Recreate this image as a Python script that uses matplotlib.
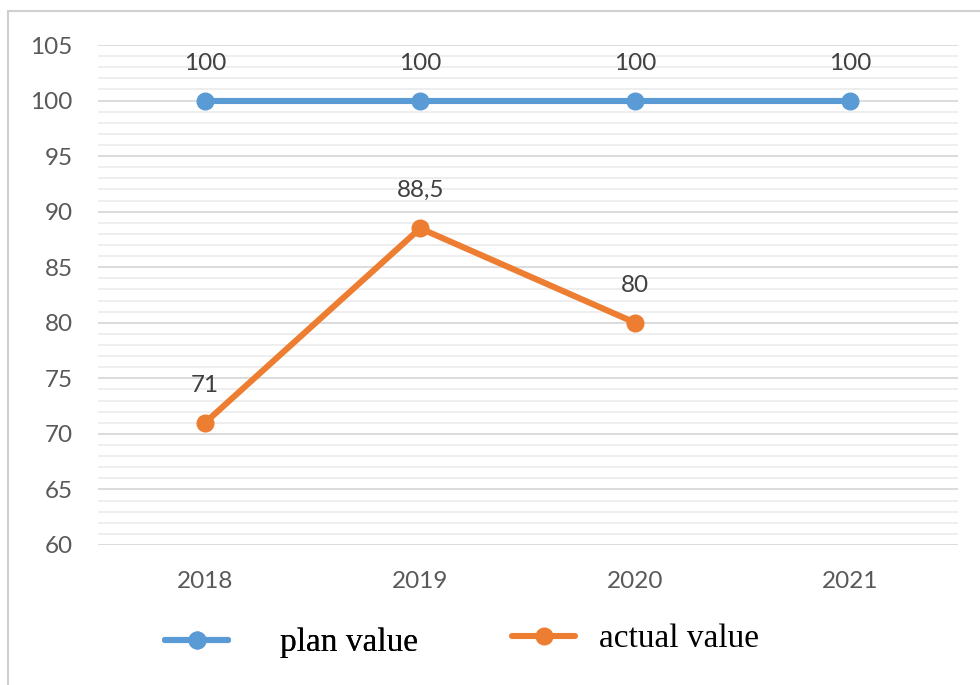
import numpy as np
import matplotlib.pyplot as plt
from matplotlib.patches import Rectangle
from matplotlib.ticker import MultipleLocator

years = ['2018', '2019', '2020', '2021']
plan = [100, 100, 100, 100]
actual = [71, 88.5, 80]
plan_labels = ['100', '100', '100', '100']
actual_labels = ['71', '88,5', '80']

blue = '#5B9BD5'
orange = '#ED7D31'

fig = plt.figure(figsize=(9.8, 6.85), dpi=100)
# рамка диаграммы
fig.patches.append(Rectangle((8/980, -0.1), 1.2, 1 - 11/685 + 0.1, transform=fig.transFigure,
                             fill=False, edgecolor='#d0d0d0', linewidth=1.5))
ax = fig.add_axes([0.0995, 0.2044, 0.878, 0.7299])

x = np.arange(len(years))
l1, = ax.plot(x, plan, color=blue, lw=4.4, marker='o', ms=12, label='plan value',
              solid_capstyle='round', zorder=3)
l2, = ax.plot(x[:len(actual)], actual, color=orange, lw=4.4, marker='o', ms=12,
              label='actual value', solid_capstyle='round', zorder=3)

lab_font = dict(family=['Lato', 'DejaVu Sans'], fontsize=17.5, color='#404040')
for xi, v, t in zip(x, plan, plan_labels):
    ax.annotate(t, (xi, v), xytext=(0, 27), textcoords='offset points',
                ha='center', va='center', **lab_font)
for xi, v, t in zip(x, actual, actual_labels):
    ax.annotate(t, (xi, v), xytext=(0, 27), textcoords='offset points',
                ha='center', va='center', **lab_font)

ax.set_xlim(-0.5, 3.5)
ax.set_ylim(60, 105)
ax.set_xticks(x)
ax.set_xticklabels(years)
ax.yaxis.set_major_locator(MultipleLocator(5))
ax.yaxis.set_minor_locator(MultipleLocator(1))
ax.grid(axis='y', which='major', color='#d9d9d9', lw=1.3, zorder=0)
ax.grid(axis='y', which='minor', color='#e9e9e9', lw=1.1, zorder=0)
ax.set_axisbelow(True)
for s in ax.spines.values():
    s.set_visible(False)
ax.tick_params(axis='both', which='both', length=0)
ax.tick_params(axis='y', pad=18)
ax.tick_params(axis='x', pad=19)
for lbl in ax.get_xticklabels() + ax.get_yticklabels():
    lbl.set_family(['Lato', 'DejaVu Sans'])
    lbl.set_fontsize(17.5)
    lbl.set_color('#595959')

leg_prop = {'family': 'Liberation Serif', 'size': 24}
leg1 = fig.legend([l1], ['plan value'], loc='center left', bbox_to_anchor=(165/980, 1 - 643/685),
                  frameon=False, prop=leg_prop, borderpad=0, borderaxespad=0,
                  handlelength=1.9, handletextpad=1.55)
fig.add_artist(leg1)
fig.legend([l2], ['actual value'], loc='center left', bbox_to_anchor=(512/980, 1 - 639/685),
           frameon=False, prop=leg_prop, borderpad=0, borderaxespad=0,
           handlelength=1.9, handletextpad=0.7)

fig.savefig('out.png', dpi=100)
